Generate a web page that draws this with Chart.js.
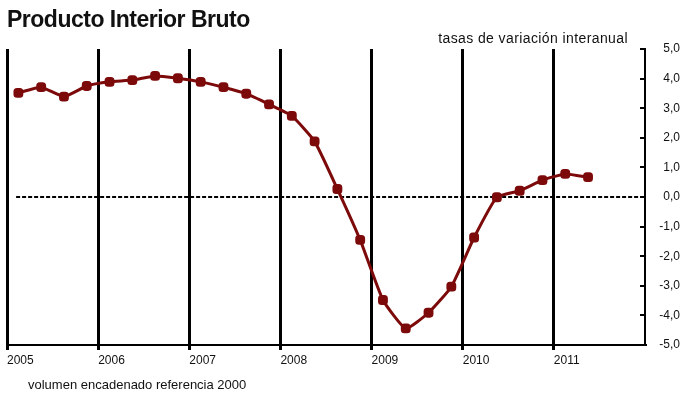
<!DOCTYPE html>
<html>
<head>
<meta charset="utf-8">
<script src="https://cdn.jsdelivr.net/npm/chart.js@4"></script>
<style>
  html, body { margin: 0; padding: 0; background: #fff; }
  #wrap { position: relative; width: 686px; height: 396px; }
  .txt { position: absolute; color: #111; white-space: nowrap; font-family: 'Liberation Sans', Arial, sans-serif; }
  #title { left: 7px; top: 6px; font-size: 23px; font-weight: bold; letter-spacing: -0.5px; }
  #sub { right: 58px; top: 30px; font-size: 14px; letter-spacing: 0.4px; }
  #note { left: 28px; top: 377px; font-size: 13px; }
</style>
</head>
<body>
<div id="wrap">
  <canvas id="pib" width="686" height="396"></canvas>
  <div class="txt" id="title">Producto Interior Bruto</div>
  <div class="txt" id="sub">tasas de variación interanual</div>
  <div class="txt" id="note">volumen encadenado referencia 2000</div>
</div>
<script>
// trimestres 2005T1 .. 2011T2
const firstYear = 2005;
const lastYear  = 2012;
const pibTasas = [
  3.52, 3.71, 3.39, 3.75,   // 2005
  3.89, 3.95, 4.09, 4.01,   // 2006
  3.89, 3.71, 3.49, 3.13,   // 2007
  2.74, 1.88, 0.27, -1.45,  // 2008
  -3.48, -4.44, -3.91, -3.03, // 2009
  -1.37, -0.01, 0.21, 0.57, // 2010
  0.78, 0.67                // 2011
];
const yTicks = [-5, -4, -3, -2, -1, 0, 1, 2, 3, 4, 5];
const zeroLine = { from: 2005.1, to: 2011.95, value: 0 };

const RED = '#7d0a0a';

const pibPoints = pibTasas.map((v, i) => ({ x: firstYear + (i + 0.5) / 4, y: v }));

const innerTicks = {
  id: 'innerTicks',
  afterDraw(chart) {
    const { ctx, chartArea, scales } = chart;
    ctx.save();
    ctx.strokeStyle = '#000';
    ctx.lineWidth = 2;
    yTicks.forEach(t => {
      const y = Math.round(scales.y.getPixelForValue(t));
      ctx.beginPath();
      ctx.moveTo(chartArea.right - 5, y);
      ctx.lineTo(chartArea.right, y);
      ctx.stroke();
    });
    ctx.restore();
  }
};

new Chart(document.getElementById('pib'), {
  type: 'line',
  data: {
    datasets: [
      {
        label: 'cero',
        data: [{ x: zeroLine.from, y: zeroLine.value }, { x: zeroLine.to, y: zeroLine.value }],
        borderColor: '#000', borderWidth: 2, borderDash: [4, 2],
        pointRadius: 0, order: 2
      },
      {
        label: 'PIB',
        data: pibPoints,
        borderColor: RED, backgroundColor: RED,
        borderWidth: 3, tension: 0.15,
        pointRadius: 4, pointStyle: 'rectRounded', pointBackgroundColor: RED, pointBorderColor: RED,
        order: 1
      }
    ]
  },
  options: {
    responsive: false, animation: false,
    layout: { padding: { left: 3, top: 49, right: 6, bottom: 0 } },
    plugins: { legend: { display: false }, tooltip: { enabled: false }, title: { display: false } },
    scales: {
      x: {
        type: 'linear', min: firstYear, max: lastYear,
        afterFit: s => { s.height = 51; },
        border: { color: '#000', width: 2 },
        grid: { color: ctx => ctx.tick && ctx.tick.value === lastYear ? 'rgba(0,0,0,0)' : '#000', lineWidth: 3, tickLength: 5 },
        ticks: {
          stepSize: 1, align: 'start', padding: 3,
          color: '#111', font: { family: 'Liberation Sans', size: 12 },
          callback: v => v === lastYear ? '' : String(v)
        }
      },
      y: {
        position: 'right', min: -5, max: 5,
        afterFit: s => { s.width = 35; },
        border: { color: '#000', width: 2 },
        grid: { display: false, drawTicks: false },
        ticks: {
          stepSize: 1, crossAlign: 'far', padding: 6,
          color: '#111', font: { family: 'Liberation Sans', size: 12 },
          callback: v => v.toFixed(1).replace('.', ',')
        }
      }
    }
  },
  plugins: [innerTicks]
});
</script>
</body>
</html>
